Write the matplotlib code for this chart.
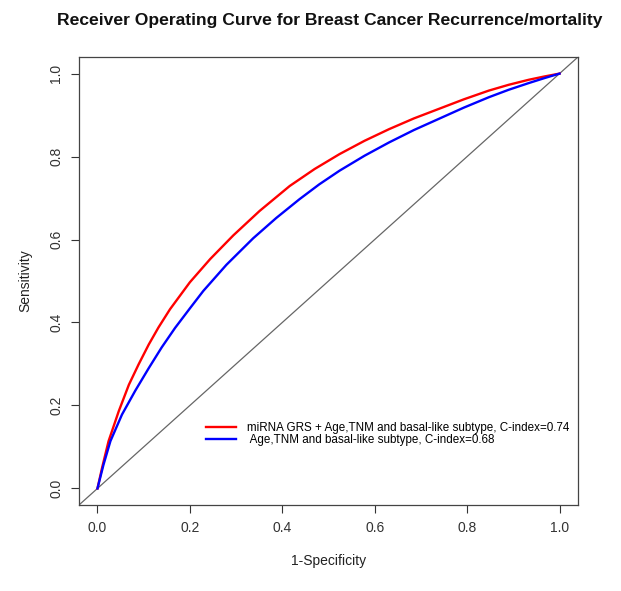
import matplotlib
matplotlib.use("Agg")
import matplotlib.pyplot as plt

plt.rcParams['font.family'] = ['Liberation Sans', 'DejaVu Sans']

title = "Receiver Operating Curve for Breast Cancer Recurrence/mortality"
xlabel = "1-Specificity"
ylabel = "Sensitivity"
ticks = [0.0, 0.2, 0.4, 0.6, 0.8, 1.0]
tick_labels = ["0.0", "0.2", "0.4", "0.6", "0.8", "1.0"]

label_red = "miRNA GRS + Age,TNM and basal-like subtype, C-index=0.74"
label_blue = " Age,TNM and basal-like subtype, C-index=0.68"

red_fpr = [0.0, 0.010, 0.024, 0.046, 0.068, 0.089, 0.111, 0.132, 0.157, 0.2,
           0.244, 0.294, 0.351, 0.416, 0.47, 0.524, 0.578, 0.631, 0.685,
           0.739, 0.793, 0.847, 0.89, 0.933, 0.967, 1.0]
red_tpr = [0.0, 0.05, 0.114, 0.186, 0.25, 0.299, 0.347, 0.388, 0.432, 0.497,
           0.553, 0.61, 0.669, 0.729, 0.77, 0.806, 0.838, 0.866, 0.892,
           0.915, 0.938, 0.959, 0.973, 0.985, 0.993, 1.0]

blue_fpr = [0.0, 0.013, 0.028, 0.053, 0.082, 0.111, 0.139, 0.168, 0.2, 0.229,
            0.279, 0.337, 0.387, 0.437, 0.48, 0.524, 0.578, 0.631, 0.685,
            0.739, 0.793, 0.847, 0.89, 0.933, 0.967, 1.0]
blue_tpr = [0.0, 0.057, 0.114, 0.178, 0.236, 0.29, 0.34, 0.387, 0.434, 0.476,
            0.539, 0.603, 0.652, 0.697, 0.733, 0.766, 0.802, 0.834, 0.864,
            0.891, 0.918, 0.943, 0.961, 0.977, 0.989, 1.0]

W, H = 621, 591
fig = plt.figure(figsize=(W / 100, H / 100), dpi=100)
ax = fig.add_axes([79 / W, 1 - 505 / H, (578 - 79) / W, (505 - 57) / H])

ax.plot(red_fpr, red_tpr, color="#ff0000", lw=1.7, label=label_red, zorder=3)
ax.plot(blue_fpr, blue_tpr, color="#0000ff", lw=1.7, label=label_blue, zorder=3)
ax.axline((0, 0), slope=1, color="#666666", lw=0.9, zorder=2)

ax.set_xlim(-0.04, 1.04)
ax.set_ylim(-0.04, 1.04)
ax.set_xticks(ticks)
ax.set_xticklabels(tick_labels)
ax.set_yticks(ticks)
ax.set_yticklabels(tick_labels, rotation=90, va="center")
ax.tick_params(direction="out", length=5.5, width=0.8, colors="#333333",
               labelsize=10, pad=6)
for s in ax.spines.values():
    s.set_color("#444444")
    s.set_linewidth(0.9)

ax.set_xlabel(xlabel, fontsize=10, color="#222222", labelpad=14)
ax.set_ylabel(ylabel, fontsize=10, color="#222222", labelpad=12)

fig.text(0.5 * (55 + 605) / W, 1 - 20 / H, title, ha="center", va="center",
         fontsize=12.6, fontweight="bold", color="#111111")

ax.legend(loc="upper left", bbox_to_anchor=(206 / W, 1 - 422 / H),
          bbox_transform=fig.transFigure, frameon=False, fontsize=8.4,
          handlelength=2.6, handletextpad=0.9, labelspacing=0.0,
          borderpad=0, borderaxespad=0)

fig.savefig("out.png", dpi=100)
